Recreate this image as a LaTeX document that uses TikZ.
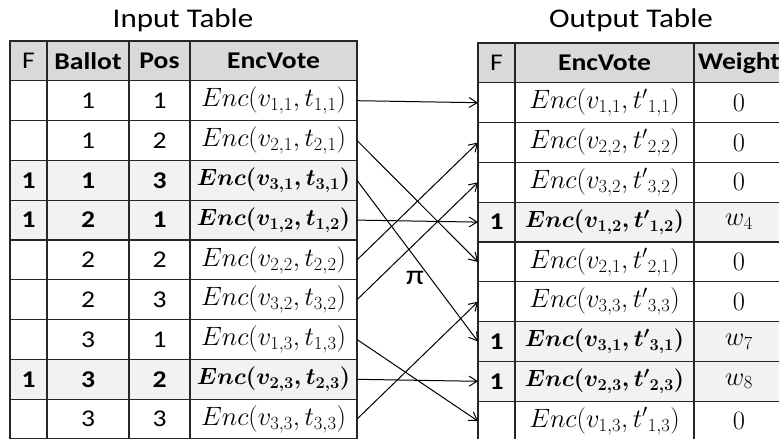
\RequirePackage{fix-cm}
\documentclass[tikz,border=0pt]{standalone}
\usepackage{fontspec}
\setmainfont{Carlito}[FakeStretch=1.15]
\DeclareFontShape{OML}{cmm}{b}{it}{<->cmmib10}{}
\usetikzlibrary{positioning,arrows.meta}

\begin{document}
\begin{tikzpicture}[x=1pt,y=-1pt,
			cell/.style={
				draw=black!85,
				line width=1.3pt,
				inner sep=0pt,
				outer sep=0pt,
				minimum height=39.8pt,
				font=\fontsize{24}{28}\selectfont
			},
			hd/.style={cell,fill=black!15,font=\fontsize{24}{28}\selectfont\bfseries},
			hl/.style={cell,fill=black!5,font=\fontsize{24}{28}\selectfont\bfseries},
			mth/.style={font=\fontsize{26.5}{28}\selectfont},
			mthb/.style={font=\fontsize{23.5}{26}\selectfont\boldmath},
			wf/.style={minimum width=37pt},
			wb/.style={minimum width=82pt},
			wp/.style={minimum width=61pt},
			we/.style={minimum width=167pt},
			wo/.style={minimum width=179pt},
			ww/.style={minimum width=90pt},
			ttl/.style={font=\fontsize{27}{30}\selectfont},
			perm/.style={-{Straight Barb[length=8pt,width=10pt]},line width=1pt}]
			
			\useasboundingbox (0,0) rectangle (779,439);
			\clip (0,0) rectangle (779,439);
			
			% titles
			\node[ttl](tin) at (183,20){Input Table};
			\node[ttl](tout) at (631,20){Output Table};
			
			% input table
			\node[hd,wf](iF0) at (28.5,60.9){\mdseries F};
			\node[hd,wb,right=0pt of iF0](iB0){Ballot};
			\node[hd,wp,right=0pt of iB0](iP0){Pos};
			\node[hd,we,right=0pt of iP0](iE0){EncVote};
			
			\node[cell,wf,below=0pt of iF0](iF1){};
			\node[cell,wb,right=0pt of iF1](iB1){1};
			\node[cell,wp,right=0pt of iB1](iP1){1};
			\node[cell,we,mth,right=0pt of iP1](iE1){$Enc(v_{1,1},t_{1,1})$};
			
			\node[cell,wf,below=0pt of iF1](iF2){};
			\node[cell,wb,right=0pt of iF2](iB2){1};
			\node[cell,wp,right=0pt of iB2](iP2){2};
			\node[cell,we,mth,right=0pt of iP2](iE2){$Enc(v_{2,1},t_{2,1})$};
			
			\node[hl,wf,below=0pt of iF2](iF3){1};
			\node[hl,wb,right=0pt of iF3](iB3){1};
			\node[hl,wp,right=0pt of iB3](iP3){3};
			\node[hl,we,mthb,right=0pt of iP3](iE3){$Enc(v_{3,1},t_{3,1})$};
			
			\node[hl,wf,below=0pt of iF3](iF4){1};
			\node[hl,wb,right=0pt of iF4](iB4){2};
			\node[hl,wp,right=0pt of iB4](iP4){1};
			\node[hl,we,mthb,right=0pt of iP4](iE4){$Enc(v_{1,2},t_{1,2})$};
			
			\node[cell,wf,below=0pt of iF4](iF5){};
			\node[cell,wb,right=0pt of iF5](iB5){2};
			\node[cell,wp,right=0pt of iB5](iP5){2};
			\node[cell,we,mth,right=0pt of iP5](iE5){$Enc(v_{2,2},t_{2,2})$};
			
			\node[cell,wf,below=0pt of iF5](iF6){};
			\node[cell,wb,right=0pt of iF6](iB6){2};
			\node[cell,wp,right=0pt of iB6](iP6){3};
			\node[cell,we,mth,right=0pt of iP6](iE6){$Enc(v_{3,2},t_{3,2})$};
			
			\node[cell,wf,below=0pt of iF6](iF7){};
			\node[cell,wb,right=0pt of iF7](iB7){3};
			\node[cell,wp,right=0pt of iB7](iP7){1};
			\node[cell,we,mth,right=0pt of iP7](iE7){$Enc(v_{1,3},t_{1,3})$};
			
			\node[hl,wf,below=0pt of iF7](iF8){1};
			\node[hl,wb,right=0pt of iF8](iB8){3};
			\node[hl,wp,right=0pt of iB8](iP8){2};
			\node[hl,we,mthb,right=0pt of iP8](iE8){$Enc(v_{2,3},t_{2,3})$};
			
			\node[cell,wf,below=0pt of iF8](iF9){};
			\node[cell,wb,right=0pt of iF9](iB9){3};
			\node[cell,wp,right=0pt of iB9](iP9){3};
			\node[cell,we,mth,right=0pt of iP9](iE9){$Enc(v_{3,3},t_{3,3})$};
			
			% output table
			\node[hd,wf](oF0) at (496.5,62.9){\mdseries F};
			\node[hd,wo,right=0pt of oF0](oE0){EncVote};
			\node[hd,ww,right=0pt of oE0](oW0){Weight};
			
			\node[cell,wf,below=0pt of oF0](oF1){};
			\node[cell,wo,mth,right=0pt of oF1](oE1){$Enc(v_{1,1},{t'}_{1,1})$};
			\node[cell,ww,mth,right=0pt of oE1](oW1){$0$};
			
			\node[cell,wf,below=0pt of oF1](oF2){};
			\node[cell,wo,mth,right=0pt of oF2](oE2){$Enc(v_{2,2},{t'}_{2,2})$};
			\node[cell,ww,mth,right=0pt of oE2](oW2){$0$};
			
			\node[cell,wf,below=0pt of oF2](oF3){};
			\node[cell,wo,mth,right=0pt of oF3](oE3){$Enc(v_{3,2},{t'}_{3,2})$};
			\node[cell,ww,mth,right=0pt of oE3](oW3){$0$};
			
			\node[hl,wf,below=0pt of oF3](oF4){1};
			\node[hl,wo,mthb,right=0pt of oF4](oE4){$Enc(v_{1,2},{t'}_{1,2})$};
			\node[hl,ww,mth,right=0pt of oE4](oW4){$w_4$};
			
			\node[cell,wf,below=0pt of oF4](oF5){};
			\node[cell,wo,mth,right=0pt of oF5](oE5){$Enc(v_{2,1},{t'}_{2,1})$};
			\node[cell,ww,mth,right=0pt of oE5](oW5){$0$};
			
			\node[cell,wf,below=0pt of oF5](oF6){};
			\node[cell,wo,mth,right=0pt of oF6](oE6){$Enc(v_{3,3},{t'}_{3,3})$};
			\node[cell,ww,mth,right=0pt of oE6](oW6){$0$};
			
			\node[hl,wf,below=0pt of oF6](oF7){1};
			\node[hl,wo,mthb,right=0pt of oF7](oE7){$Enc(v_{3,1},{t'}_{3,1})$};
			\node[hl,ww,mth,right=0pt of oE7](oW7){$w_7$};
			
			\node[hl,wf,below=0pt of oF7](oF8){1};
			\node[hl,wo,mthb,right=0pt of oF8](oE8){$Enc(v_{2,3},{t'}_{2,3})$};
			\node[hl,ww,mth,right=0pt of oE8](oW8){$w_8$};
			
			\node[cell,wf,below=0pt of oF8](oF9){};
			\node[cell,wo,mth,right=0pt of oF9](oE9){$Enc(v_{1,3},{t'}_{1,3})$};
			\node[cell,ww,mth,right=0pt of oE9](oW9){$0$};
			
			% permutation
			\draw[perm](iE1.east)--(oF1.west);
			\draw[perm](iE2.east)--(oF5.west);
			\draw[perm](iE3.east)--(oF7.west);
			\draw[perm](iE4.east)--(oF4.west);
			\draw[perm](iE5.east)--(oF2.west);
			\draw[perm](iE6.east)--(oF3.west);
			\draw[perm](iE7.east)--(oF9.west);
			\draw[perm](iE8.east)--(oF8.west);
			\draw[perm](iE9.east)--(oF6.west);
			
			\node[font=\fontsize{28}{30}\selectfont](pi) at (415,278){π};
			
		\end{tikzpicture}
\end{document}
